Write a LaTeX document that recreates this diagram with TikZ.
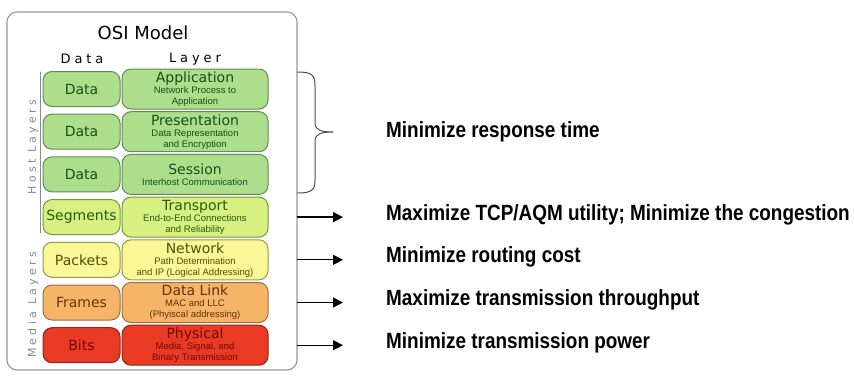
\documentclass[tikz,border=0pt]{standalone}
\usepackage{fontspec}
\setmainfont{DejaVu Sans}
\newfontfamily\layfont{DejaVu Sans}
\newfontfamily\arialfont{Liberation Sans}
\newfontfamily\goalfont[FakeStretch=0.86]{Liberation Sans}
\newfontfamily\spacedfont[LetterSpace=30]{DejaVu Sans}
\newcommand\laysub{\arialfont\fontsize{9.5}{11}\selectfont}
\usetikzlibrary{arrows.meta,positioning}

\definecolor{hostfill}{RGB}{172,222,140}
\definecolor{hostdraw}{RGB}{100,140,84}
\definecolor{hosttext}{RGB}{24,80,24}
\definecolor{transfill}{RGB}{214,240,130}
\definecolor{transdraw}{RGB}{120,150,60}
\definecolor{transtext}{RGB}{40,90,10}
\definecolor{netfill}{RGB}{250,248,150}
\definecolor{netdraw}{RGB}{150,150,80}
\definecolor{nettext}{RGB}{80,80,10}
\definecolor{linkfill}{RGB}{246,180,104}
\definecolor{linkdraw}{RGB}{160,110,60}
\definecolor{linktext}{RGB}{100,50,10}
\definecolor{physfill}{RGB}{234,58,36}
\definecolor{physdraw}{RGB}{140,40,30}
\definecolor{phystext}{RGB}{110,10,10}
\definecolor{framegray}{RGB}{150,150,150}
\definecolor{sidegray}{RGB}{135,137,150}

\tikzset{
  pdubox/.style={rounded corners=9pt, line width=1pt, minimum width=77pt,
    minimum height=35pt, inner sep=0pt, font=\fontsize{14}{14}\selectfont},
  laybox/.style={rounded corners=9pt, line width=1pt, minimum width=146pt,
    minimum height=40pt, inner sep=0pt, align=center, font=\laysub},
  goal/.style={anchor=base west, inner sep=0pt,
    font=\goalfont\bfseries\fontsize{22}{22}\selectfont},
  goalarrow/.style={line width=1.3pt, -{Triangle[length=10pt,width=10pt]}},
  sidelabel/.style={sidegray, rotate=90, font=\spacedfont\fontsize{11}{11}\selectfont}
}

\begin{document}
\begin{tikzpicture}[x=1pt, y=-1pt, line cap=round, line join=round]
\useasboundingbox (0,0) rectangle (854,375);

\node [draw=framegray, line width=1.1pt, rounded corners=10pt,
  minimum width=290pt, minimum height=358pt] (osi) at (152,191) {};
\node [font=\fontsize{18}{18}\selectfont] (title) at (143,33) {OSI Model};
\node [font=\spacedfont\fontsize{13}{13}\selectfont] (hdata) at (82,59) {Data};
\node [font=\spacedfont\fontsize{13}{13}\selectfont] (hlayer) at (195,59) {Layer};

\foreach \i/\pdu/\lay/\sub/\c in {
  0/Data/Application/{Network Process to\\Application}/host,
  1/Data/Presentation/{Data Representation\\and Encryption}/host,
  2/Data/Session/{Interhost Communication}/host,
  3/Segments/Transport/{End-to-End Connections\\and Reliability}/trans,
  4/Packets/Network/{Path Determination\\and IP (Logical Addressing)}/net,
  5/Frames/Data Link/{MAC and LLC\\(Phyiscal addressing)}/link,
  6/Bits/Physical/{Media, Signal, and\\Binary Transmission}/phys}
{
  \pgfmathsetmacro\y{89+42.7*\i}
  \node [pdubox, fill=\c fill, draw=\c draw, text=\c text] (pdu\i) at (81.5,\y) {\pdu};
  \node [laybox, fill=\c fill, draw=\c draw, text=\c text] (lay\i) at (195,\y)
    {{\layfont\fontsize{14}{14}\selectfont\lay}\\\sub};
}

\draw [sidegray, line width=0.8pt] (40,72) -- (40,233);
\node [sidelabel] (host) at (33,147) {Host Layers};
\node [sidelabel] (media) at (33,305) {Media Layers};

% brace over the host layers
\coordinate (btop) at (osi.east |- 0,72);
\coordinate (bbot) at (osi.east |- 0,193);
\coordinate (btip) at (333,132);
\draw [black!70, line width=1pt] (btop) .. controls (312,72) and (315,75) .. (315,86)
  -- (315,123) .. controls (315,130) and (321,132) .. (btip)
  .. controls (321,132) and (315,134) .. (315,141)
  -- (315,180) .. controls (315,190) and (312,193) .. (bbot);
\node [goal] (g0) at (386,137) {Minimize response time};

\foreach \i/\txt in {3/{Maximize TCP/AQM utility; Minimize the congestion},
  4/Minimize routing cost, 5/Maximize transmission throughput,
  6/Minimize transmission power}
{
  \coordinate (tip\i) at (343,0 |- lay\i);
  \draw [goalarrow] (osi.east |- lay\i) -- (tip\i);
  \node [goal] (g\i) at ([yshift=-3pt]386,0 |- lay\i) {\txt};
}
\end{tikzpicture}
\end{document}
